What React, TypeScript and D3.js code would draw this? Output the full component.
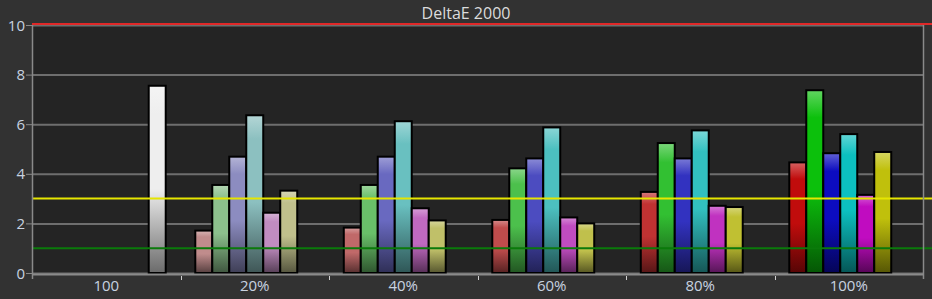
import React from "react";
import * as d3 from "d3";

const groups = ["100", "20%", "40%", "60%", "80%", "100%"];
const series = ["red", "green", "blue", "cyan", "magenta", "yellow", "white"];
const yTicks = [0, 2, 4, 6, 8, 10];

// values per group, per series (null = no bar)
const redVals = [null, 1.71, 1.83, 2.14, 3.27, 4.46];
const greenVals = [null, 3.55, 3.55, 4.22, 5.24, 7.37];
const blueVals = [null, 4.69, 4.69, 4.62, 4.62, 4.83];
const cyanVals = [null, 6.36, 6.12, 5.87, 5.75, 5.6];
const magentaVals = [null, 2.43, 2.61, 2.24, 2.71, 3.15];
const yellowVals = [null, 3.32, 2.12, 2.0, 2.66, 4.88];
const whiteVals = [7.55, null, null, null, null, null];

const thresholds = [
  { v: 10, color: "#e02828" },
  { v: 3, color: "#e6e600" },
  { v: 1, color: "#0a7a0a" },
];

const valuesBySeries: Record<string, (number | null)[]> = {
  red: redVals,
  green: greenVals,
  blue: blueVals,
  cyan: cyanVals,
  magenta: magentaVals,
  yellow: yellowVals,
  white: whiteVals,
};

const baseHue: Record<string, [number, number, number]> = {
  red: [1, 0, 0],
  green: [0, 1, 0],
  blue: [0, 0, 1],
  cyan: [0, 1, 1],
  magenta: [1, 0, 1],
  yellow: [1, 1, 0],
  white: [1, 1, 1],
};
const satLevels = [1, 0.2, 0.42, 0.6, 0.76, 1];

function barColor(s: string, gi: number): string {
  if (s === "white") return "#eeeeee";
  const sat = satLevels[gi];
  const hi = 192;
  const lo = Math.round(172 - 160 * sat);
  const h = baseHue[s];
  return d3.rgb(h[0] ? hi : lo, h[1] ? hi : lo, h[2] ? hi : lo).formatHex();
}

export default function App() {
  const W = 932;
  const H = 299;
  const left = 32;
  const right = 923;
  const top = 25;
  const bottom = 273;

  const x0 = d3.scaleBand<string>().domain(groups).range([left, right]).padding(0);
  const x1 = d3
    .scaleBand<string>()
    .domain(series)
    .range([0, x0.bandwidth()])
    .paddingInner(0)
    .paddingOuter(0.87);
  const y = d3.scaleLinear().domain([0, 10]).range([bottom, top]);

  const bars: { key: string; x: number; y: number; w: number; h: number; color: string }[] = [];
  groups.forEach((g, gi) => {
    series.forEach((s) => {
      const v = valuesBySeries[s][gi];
      if (v == null) return;
      bars.push({
        key: `${g}-${s}`,
        x: (x0(g) as number) + (x1(s) as number),
        y: y(v),
        w: x1.bandwidth(),
        h: y(0) - y(v),
        color: barColor(s, gi),
      });
    });
  });

  const font = "'Open Sans', 'DejaVu Sans', sans-serif";

  return (
    <svg
      width={W}
      height={H}
      style={{ position: "absolute", left: 0, top: 0, display: "block" }}
    >
      <defs>
        {bars.map((b) => {
          const c = d3.rgb(b.color).formatHex();
          const light = d3.interpolateRgb(b.color, "#ffffff")(0.35);
          const dark = d3.interpolateRgb(b.color, "#000000")(0.55);
          return (
            <linearGradient key={b.key} id={`g-${b.key.replace("%", "p")}`} x1="0" y1="0" x2="0" y2="1">
              <stop offset="0" stopColor={light} />
              <stop offset="0.15" stopColor={c} />
              <stop offset="0.55" stopColor={c} />
              <stop offset="1" stopColor={dark} />
            </linearGradient>
          );
        })}
      </defs>
      <rect x={0} y={0} width={W} height={H} fill="#323232" />
      <rect x={left} y={top} width={right - left} height={bottom - top} fill="#242424" />
      <text
        x={466}
        y={19}
        textAnchor="middle"
        fontFamily={font}
        fontSize={16}
        fill="#dcdcdc"
      >
        DeltaE 2000
      </text>
      {/* grid */}
      {yTicks.map((t) => (
        <g key={t}>
          <line x1={left} x2={right} y1={y(t) + 0.5} y2={y(t) + 0.5} stroke="#6e6e6e" strokeWidth={2} />
          <line x1={26} x2={left} y1={y(t) + 0.5} y2={y(t) + 0.5} stroke="#8a8a8a" strokeWidth={1} />
          <text
            x={25}
            y={y(t) + 5.5}
            textAnchor="end"
            fontFamily={font}
            fontSize={15}
            fill="#c8d2e0"
          >
            {t}
          </text>
        </g>
      ))}
      {/* bars */}
      {bars.map((b) => (
        <rect
          key={b.key}
          x={b.x}
          y={b.y}
          width={b.w}
          height={b.h}
          fill={`url(#g-${b.key.replace("%", "p")})`}
          stroke="#000"
          strokeWidth={2}
        />
      ))}
      {/* thresholds */}
      {thresholds.map((t) => (
        <line
          key={t.v}
          x1={left}
          x2={W}
          y1={y(t.v) - (t.v === 10 ? 1 : 0)}
          y2={y(t.v) - (t.v === 10 ? 1 : 0)}
          stroke={t.color}
          strokeWidth={2}
        />
      ))}
      {/* axes */}
      <line x1={left + 0.5} x2={left + 0.5} y1={top} y2={bottom + 6} stroke="#8a8a8a" strokeWidth={1.5} />
      <line x1={right + 0.5} x2={right + 0.5} y1={top} y2={bottom + 6} stroke="#8a8a8a" strokeWidth={1.5} />
      <line x1={left} x2={right} y1={bottom + 1.5} y2={bottom + 1.5} stroke="#8a8a8a" strokeWidth={2} />
      {groups.map((g, gi) =>
        gi > 0 ? (
          <line
            key={`t-${g}`}
            x1={Math.round(x0(g) as number) + 0.5}
            x2={Math.round(x0(g) as number) + 0.5}
            y1={bottom + 3}
            y2={bottom + 7}
            stroke="#d0d0d0"
            strokeWidth={1}
          />
        ) : null
      )}
      {groups.map((g) => (
        <text
          key={`l-${g}`}
          x={(x0(g) as number) + x0.bandwidth() / 2}
          y={291}
          textAnchor="middle"
          fontFamily={font}
          fontSize={15}
          fill="#c8d2e0"
        >
          {g}
        </text>
      ))}
    </svg>
  );
}
